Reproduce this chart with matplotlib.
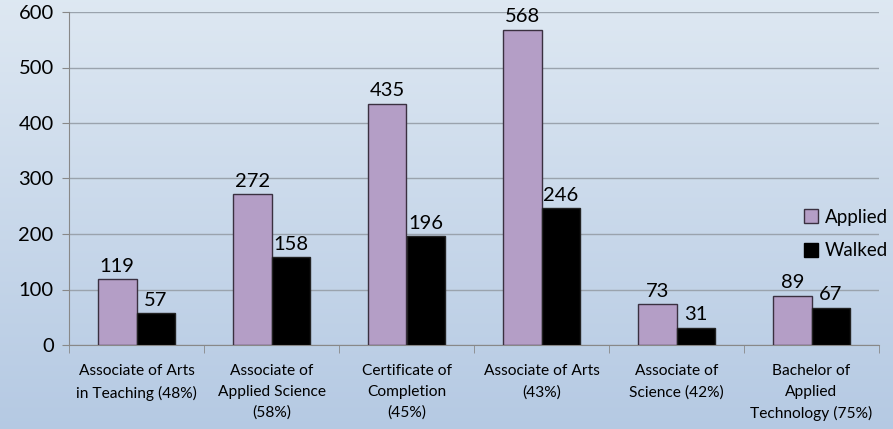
import numpy as np
import matplotlib
matplotlib.use("Agg")
import matplotlib.pyplot as plt
from matplotlib.patches import Patch

categories = ["Associate of Arts\nin Teaching (48%)",
              "Associate of\nApplied Science\n(58%)",
              "Certificate of\nCompletion\n(45%)",
              "Associate of Arts\n(43%)",
              "Associate of\nScience (42%)",
              "Bachelor of\nApplied\nTechnology (75%)"]
applied = [119, 272, 435, 568, 73, 89]
walked = [57, 158, 196, 246, 31, 67]

plt.rcParams['font.family'] = ['Lato', 'DejaVu Sans']

fig = plt.figure(figsize=(8.93, 4.29), dpi=100)

# gradient background
bg = fig.add_axes([0, 0, 1, 1], zorder=0)
grad = np.linspace(0, 1, 256).reshape(-1, 1)
top = np.array([0.87, 0.91, 0.95])
bot = np.array([0.71, 0.79, 0.89])
img = top[None, None, :] * (1 - grad[:, :, None]) + bot[None, None, :] * grad[:, :, None]
bg.imshow(img, aspect='auto', extent=[0, 1, 0, 1])
bg.axis('off')

ax = fig.add_axes([69/893, 84/429, 810/893, 333/429], zorder=1)
ax.patch.set_alpha(0)

x = np.arange(len(categories))
w = 0.285
b1 = ax.bar(x - w/2, applied, w, color='#b49ec6', edgecolor='#3a3040', linewidth=1, label='Applied', zorder=3)
b2 = ax.bar(x + w/2, walked, w, color='black', edgecolor='#222222', linewidth=1, label='Walked', zorder=3)

for bars, vals in ((b1, applied), (b2, walked)):
    for r, v in zip(bars, vals):
        ax.text(r.get_x() + r.get_width()/2, v + 8, str(v), ha='center', va='bottom',
                fontsize=14.5, color='black', zorder=4)

ax.set_xlim(-0.5, len(categories) - 0.5)
ax.set_ylim(0, 600)
ax.set_yticks(range(0, 601, 100))
ax.tick_params(axis='y', labelsize=14.5, length=5, color='#888888', pad=6)
ax.yaxis.grid(True, color='#9aa3ad', linewidth=1, zorder=0)
ax.set_axisbelow(True)

ax.set_xticks(x)
ax.set_xticklabels(categories, fontsize=11.2, linespacing=1.6)
ax.tick_params(axis='x', length=0, pad=14)
ax.set_xticks(np.arange(-0.5, len(categories)), minor=True)
ax.tick_params(axis='x', which='minor', length=6, color='#888888')

for s in ['top', 'right']:
    ax.spines[s].set_visible(False)
ax.spines['left'].set_color('#888888')
ax.spines['bottom'].set_color('#888888')

handles = [Patch(facecolor='#b49ec6', edgecolor='#3a3040', label='Applied'),
           Patch(facecolor='black', edgecolor='black', label='Walked')]
fig.legend(handles=handles, loc='center left', bbox_to_anchor=(795/893, 1 - 234/429),
           frameon=False, fontsize=13.5, handlelength=0.75, handleheight=0.75,
           handletextpad=0.35, labelspacing=0.9, borderpad=0)

fig.savefig('out.png', dpi=100)
